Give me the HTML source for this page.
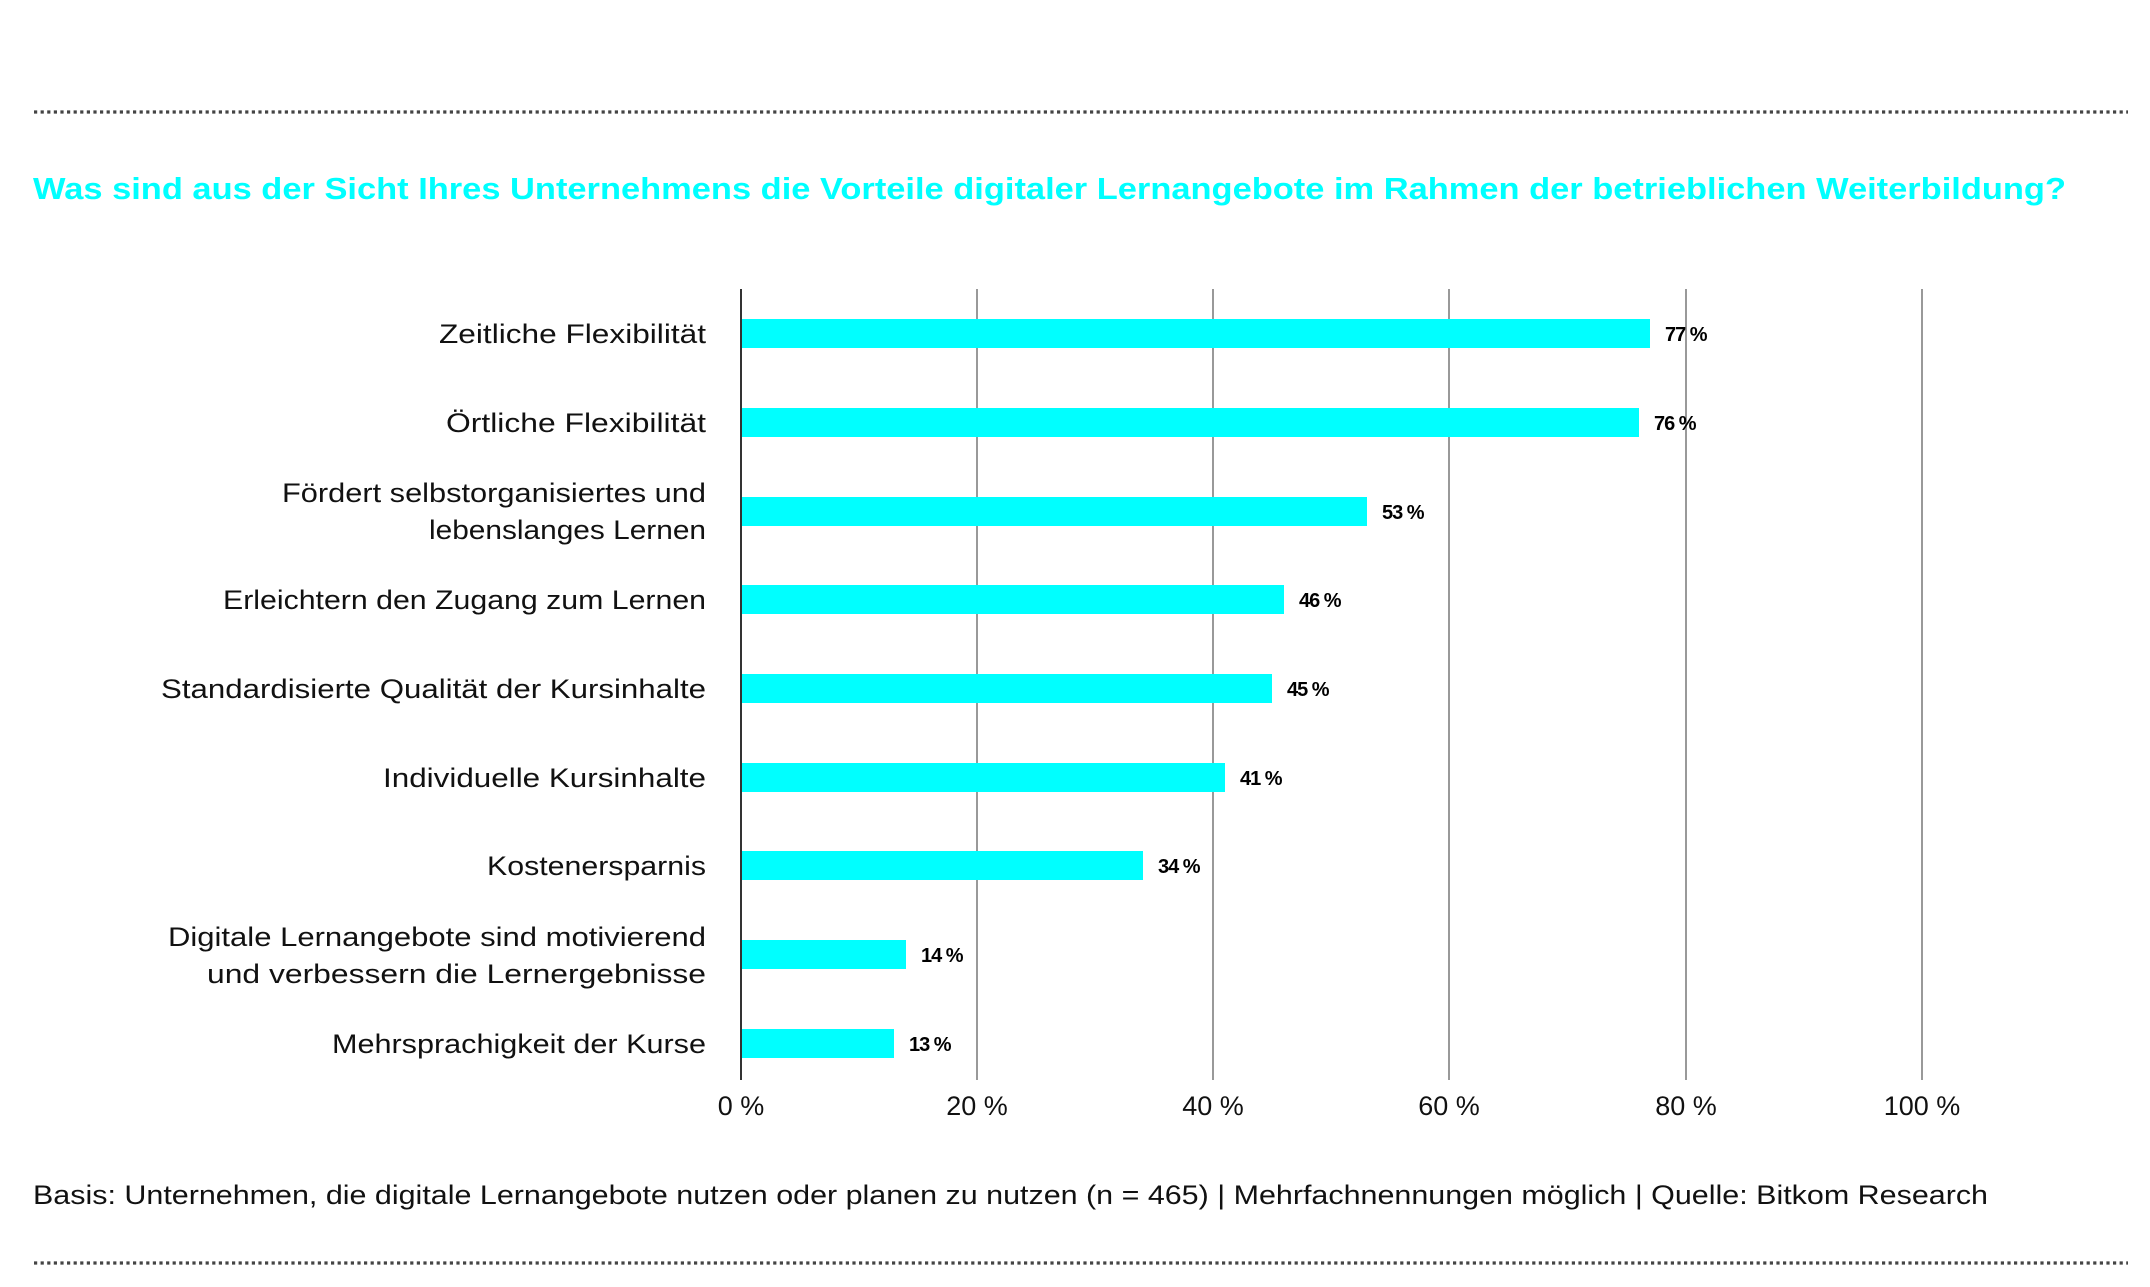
<!DOCTYPE html>
<html><head><meta charset="utf-8"><style>
html,body{margin:0;padding:0;background:#fff;}
svg{display:block;font-family:"Liberation Sans","DejaVu Sans",sans-serif;}
</style></head><body>
<svg width="2150" height="1287" viewBox="0 0 2150 1287" xmlns="http://www.w3.org/2000/svg">
<line x1="34" y1="112" x2="2128" y2="112" stroke="#444" stroke-width="3.2" stroke-dasharray="3.2 3.4"/>
<line x1="34" y1="1263" x2="2128" y2="1263" stroke="#444" stroke-width="3.2" stroke-dasharray="3.2 3.4"/>
<text x="33" y="199" font-size="31" font-weight="bold" fill="#00ffff" textLength="2033" lengthAdjust="spacingAndGlyphs">Was sind aus der Sicht Ihres Unternehmens die Vorteile digitaler Lernangebote im Rahmen der betrieblichen Weiterbildung?</text>
<g stroke="#999" stroke-width="2">
<line x1="977" y1="289" x2="977" y2="1080"/>
<line x1="1213" y1="289" x2="1213" y2="1080"/>
<line x1="1449" y1="289" x2="1449" y2="1080"/>
<line x1="1686" y1="289" x2="1686" y2="1080"/>
<line x1="1922" y1="289" x2="1922" y2="1080"/>
</g>
<g fill="#00ffff">
<rect x="741" y="319" width="909" height="29"/>
<rect x="741" y="408" width="898" height="29"/>
<rect x="741" y="497" width="626" height="29"/>
<rect x="741" y="585" width="543" height="29"/>
<rect x="741" y="674" width="531" height="29"/>
<rect x="741" y="763" width="484" height="29"/>
<rect x="741" y="851" width="402" height="29"/>
<rect x="741" y="940" width="165" height="29"/>
<rect x="741" y="1029" width="153" height="29"/>
</g>
<line x1="741" y1="289" x2="741" y2="1080" stroke="#333" stroke-width="2"/>
<g font-size="20" font-weight="bold" fill="#000" letter-spacing="-1">
<text x="1665" y="341">77 %</text>
<text x="1654" y="430">76 %</text>
<text x="1382" y="519">53 %</text>
<text x="1299" y="607">46 %</text>
<text x="1287" y="696">45 %</text>
<text x="1240" y="785">41 %</text>
<text x="1158" y="873">34 %</text>
<text x="921" y="962">14 %</text>
<text x="909" y="1051">13 %</text>
</g>
<g font-size="27" fill="#111" text-anchor="end">
<text x="706" y="343" textLength="267" lengthAdjust="spacingAndGlyphs">Zeitliche Flexibilität</text>
<text x="706" y="432" textLength="260" lengthAdjust="spacingAndGlyphs">Örtliche Flexibilität</text>
<text x="706" y="502" textLength="424" lengthAdjust="spacingAndGlyphs">Fördert selbstorganisiertes und</text>
<text x="706" y="539" textLength="277" lengthAdjust="spacingAndGlyphs">lebenslanges Lernen</text>
<text x="706" y="609" textLength="483" lengthAdjust="spacingAndGlyphs">Erleichtern den Zugang zum Lernen</text>
<text x="706" y="698" textLength="545" lengthAdjust="spacingAndGlyphs">Standardisierte Qualität der Kursinhalte</text>
<text x="706" y="787" textLength="323" lengthAdjust="spacingAndGlyphs">Individuelle Kursinhalte</text>
<text x="706" y="875" textLength="219" lengthAdjust="spacingAndGlyphs">Kostenersparnis</text>
<text x="706" y="946" textLength="538" lengthAdjust="spacingAndGlyphs">Digitale Lernangebote sind motivierend</text>
<text x="706" y="983" textLength="499" lengthAdjust="spacingAndGlyphs">und verbessern die Lernergebnisse</text>
<text x="706" y="1053" textLength="374" lengthAdjust="spacingAndGlyphs">Mehrsprachigkeit der Kurse</text>
</g>
<g font-size="27" fill="#111" text-anchor="middle">
<text x="741" y="1115">0 %</text>
<text x="977" y="1115">20 %</text>
<text x="1213" y="1115">40 %</text>
<text x="1449" y="1115">60 %</text>
<text x="1686" y="1115">80 %</text>
<text x="1922" y="1115">100 %</text>
</g>
<text x="33" y="1204" font-size="27" fill="#111" textLength="1955" lengthAdjust="spacingAndGlyphs">Basis: Unternehmen, die digitale Lernangebote nutzen oder planen zu nutzen (n = 465) | Mehrfachnennungen möglich | Quelle: Bitkom Research</text>
</svg>
</body></html>
